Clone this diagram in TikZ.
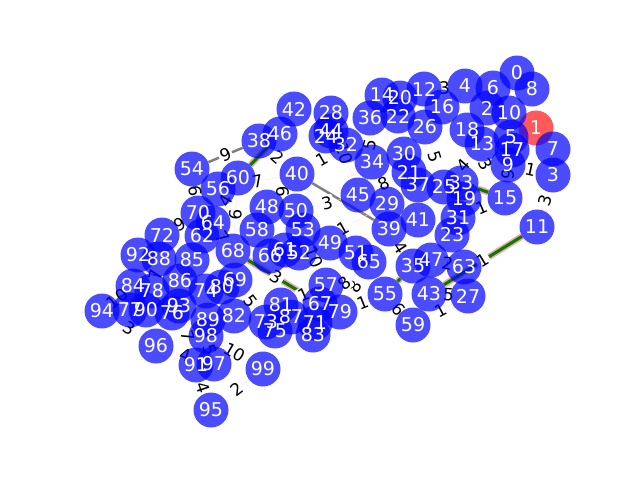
\documentclass[tikz,border=0pt]{standalone}
\usepackage{fontspec}
\setmainfont{DejaVu Sans}
\usepackage{xcolor}
\usepackage{tikz}

\pgfdeclarelayer{background}
\pgfsetlayers{background,main}

\definecolor{halo}{RGB}{250,160,160}
\definecolor{pathgreen}{RGB}{0,128,0}
\definecolor{faint}{RGB}{255,225,230}

\begin{document}
\begin{tikzpicture}[
            x = 1pt, y = -1pt, % pixel grid, y downwards
            vertex/.style = {shape=circle, fill=blue, fill opacity=0.7, minimum size=35pt, inner sep=0pt},
            source/.style = {vertex, fill=red, fill opacity=0.65},
            num/.style = {text=white, font=\fontsize{19}{19}\selectfont},
            link/.style = {draw=faint, line width=0.4pt},
            grey link/.style = {draw=gray, line width=2.5pt},
            route/.style = {draw=halo, line width=1.6pt, double=pathgreen, double distance=3pt},
            weight/.style = {sloped, fill=white, rounded corners=2pt, inner sep=1.5pt, font=\fontsize{17}{17}\selectfont}
        ]
\useasboundingbox (0,0) rectangle (640,480);

\node[vertex] (n0) at (517,73) {};
\node[source] (n1) at (536,128) {};
\node[vertex] (n2) at (487,108) {};
\node[vertex] (n3) at (553,175) {};
\node[vertex] (n4) at (465,86) {};
\node[vertex] (n5) at (511,137) {};
\node[vertex] (n6) at (493,88) {};
\node[vertex] (n7) at (553,149) {};
\node[vertex] (n8) at (532,89) {};
\node[vertex] (n9) at (508,165) {};
\node[vertex] (n10) at (509,113) {};
\node[vertex] (n11) at (537,227) {};
\node[vertex] (n12) at (424,89) {};
\node[vertex] (n13) at (482,144) {};
\node[vertex] (n14) at (382,95) {};
\node[vertex] (n15) at (505,198) {};
\node[vertex] (n16) at (442,107) {};
\node[vertex] (n17) at (512,150) {};
\node[vertex] (n18) at (467,130) {};
\node[vertex] (n19) at (464,199) {};
\node[vertex] (n20) at (400,98) {};
\node[vertex] (n21) at (409,172) {};
\node[vertex] (n22) at (398,116) {};
\node[vertex] (n23) at (452,235) {};
\node[vertex] (n24) at (326,136) {};
\node[vertex] (n25) at (444,187) {};
\node[vertex] (n26) at (425,127) {};
\node[vertex] (n27) at (468,296) {};
\node[vertex] (n28) at (331,113) {};
\node[vertex] (n29) at (387,204) {};
\node[vertex] (n30) at (404,154) {};
\node[vertex] (n31) at (458,218) {};
\node[vertex] (n32) at (346,145) {};
\node[vertex] (n33) at (461,183) {};
\node[vertex] (n34) at (372,162) {};
\node[vertex] (n35) at (413,266) {};
\node[vertex] (n36) at (370,118) {};
\node[vertex] (n37) at (418,185) {};
\node[vertex] (n38) at (259,141) {};
\node[vertex] (n39) at (389,229) {};
\node[vertex] (n40) at (297,174) {};
\node[vertex] (n41) at (418,220) {};
\node[vertex] (n42) at (294,109) {};
\node[vertex] (n43) at (429,294) {};
\node[vertex] (n44) at (331,131) {};
\node[vertex] (n45) at (358,195) {};
\node[vertex] (n46) at (280,134) {};
\node[vertex] (n47) at (431,260) {};
\node[vertex] (n48) at (267,207) {};
\node[vertex] (n49) at (330,243) {};
\node[vertex] (n50) at (296,211) {};
\node[vertex] (n51) at (356,253) {};
\node[vertex] (n52) at (299,253) {};
\node[vertex] (n53) at (303,230) {};
\node[vertex] (n54) at (192,169) {};
\node[vertex] (n55) at (385,294) {};
\node[vertex] (n56) at (218,189) {};
\node[vertex] (n57) at (326,285) {};
\node[vertex] (n58) at (257,230) {};
\node[vertex] (n59) at (413,325) {};
\node[vertex] (n60) at (238,178) {};
\node[vertex] (n61) at (285,250) {};
\node[vertex] (n62) at (202,236) {};
\node[vertex] (n63) at (464,267) {};
\node[vertex] (n64) at (213,223) {};
\node[vertex] (n65) at (369,262) {};
\node[vertex] (n66) at (270,256) {};
\node[vertex] (n67) at (320,304) {};
\node[vertex] (n68) at (233,251) {};
\node[vertex] (n69) at (235,280) {};
\node[vertex] (n70) at (198,213) {};
\node[vertex] (n71) at (315,323) {};
\node[vertex] (n72) at (162,235) {};
\node[vertex] (n73) at (266,322) {};
\node[vertex] (n74) at (206,291) {};
\node[vertex] (n75) at (275,331) {};
\node[vertex] (n76) at (172,313) {};
\node[vertex] (n77) at (130,310) {};
\node[vertex] (n78) at (152,291) {};
\node[vertex] (n79) at (340,312) {};
\node[vertex] (n80) at (222,287) {};
\node[vertex] (n81) at (281,305) {};
\node[vertex] (n82) at (234,316) {};
\node[vertex] (n83) at (313,335) {};
\node[vertex] (n84) at (133,286) {};
\node[vertex] (n85) at (192,260) {};
\node[vertex] (n86) at (180,281) {};
\node[vertex] (n87) at (291,317) {};
\node[vertex] (n88) at (159,259) {};
\node[vertex] (n89) at (208,320) {};
\node[vertex] (n90) at (146,310) {};
\node[vertex] (n91) at (196,365) {};
\node[vertex] (n92) at (138,255) {};
\node[vertex] (n93) at (179,306) {};
\node[vertex] (n94) at (102,311) {};
\node[vertex] (n95) at (211,410) {};
\node[vertex] (n96) at (156,346) {};
\node[vertex] (n97) at (214,364) {};
\node[vertex] (n98) at (206,336) {};
\node[vertex] (n99) at (263,369) {};

% numbers go on top of every disc
\node[num] at (n0) {0};
\node[num] at (n1) {1};
\node[num] at (n2) {2};
\node[num] at (n3) {3};
\node[num] at (n4) {4};
\node[num] at (n5) {5};
\node[num] at (n6) {6};
\node[num] at (n7) {7};
\node[num] at (n8) {8};
\node[num] at (n9) {9};
\node[num] at (n10) {10};
\node[num] at (n11) {11};
\node[num] at (n12) {12};
\node[num] at (n13) {13};
\node[num] at (n14) {14};
\node[num] at (n15) {15};
\node[num] at (n16) {16};
\node[num] at (n17) {17};
\node[num] at (n18) {18};
\node[num] at (n19) {19};
\node[num] at (n20) {20};
\node[num] at (n21) {21};
\node[num] at (n22) {22};
\node[num] at (n23) {23};
\node[num] at (n24) {24};
\node[num] at (n25) {25};
\node[num] at (n26) {26};
\node[num] at (n27) {27};
\node[num] at (n28) {28};
\node[num] at (n29) {29};
\node[num] at (n30) {30};
\node[num] at (n31) {31};
\node[num] at (n32) {32};
\node[num] at (n33) {33};
\node[num] at (n34) {34};
\node[num] at (n35) {35};
\node[num] at (n36) {36};
\node[num] at (n37) {37};
\node[num] at (n38) {38};
\node[num] at (n39) {39};
\node[num] at (n40) {40};
\node[num] at (n41) {41};
\node[num] at (n42) {42};
\node[num] at (n43) {43};
\node[num] at (n44) {44};
\node[num] at (n45) {45};
\node[num] at (n46) {46};
\node[num] at (n47) {47};
\node[num] at (n48) {48};
\node[num] at (n49) {49};
\node[num] at (n50) {50};
\node[num] at (n51) {51};
\node[num] at (n52) {52};
\node[num] at (n53) {53};
\node[num] at (n54) {54};
\node[num] at (n55) {55};
\node[num] at (n56) {56};
\node[num] at (n57) {57};
\node[num] at (n58) {58};
\node[num] at (n59) {59};
\node[num] at (n60) {60};
\node[num] at (n61) {61};
\node[num] at (n62) {62};
\node[num] at (n63) {63};
\node[num] at (n64) {64};
\node[num] at (n65) {65};
\node[num] at (n66) {66};
\node[num] at (n67) {67};
\node[num] at (n68) {68};
\node[num] at (n69) {69};
\node[num] at (n70) {70};
\node[num] at (n71) {71};
\node[num] at (n72) {72};
\node[num] at (n73) {73};
\node[num] at (n74) {74};
\node[num] at (n75) {75};
\node[num] at (n76) {76};
\node[num] at (n77) {77};
\node[num] at (n78) {78};
\node[num] at (n79) {79};
\node[num] at (n80) {80};
\node[num] at (n81) {81};
\node[num] at (n82) {82};
\node[num] at (n83) {83};
\node[num] at (n84) {84};
\node[num] at (n85) {85};
\node[num] at (n86) {86};
\node[num] at (n87) {87};
\node[num] at (n88) {88};
\node[num] at (n89) {89};
\node[num] at (n90) {90};
\node[num] at (n91) {91};
\node[num] at (n92) {92};
\node[num] at (n93) {93};
\node[num] at (n94) {94};
\node[num] at (n95) {95};
\node[num] at (n96) {96};
\node[num] at (n97) {97};
\node[num] at (n98) {98};
\node[num] at (n99) {99};

% edges sit under the discs
\begin{pgfonlayer}{background}
 \path (n54) edge[grey link] node[weight] {9} (n38);
 \path (n40) edge[grey link] (n39);

 \path (n11) edge[route] node[weight] {1} (n43);
 \path (n68) edge[route] node[weight] {3} (n67);
 \path (n55) edge[route] (n35);
 \path (n33) edge[route] (n15);
 \path (n60) edge[route] (n46);
 \path (n45) edge[route] (n34);

 \path (n56) edge[link] node[weight] {7} (n40);
 \path (n38) edge[link] node[weight] {2} (n40);
 \path (n40) edge[link] node[weight] {1} (n32);
 \path (n28) edge[link] node[weight] {10} (n45);
 \path (n46) edge[link] node[weight] {6} (n61);
 \path (n45) edge[link] node[weight] {3} (n50);
 \path (n29) edge[link] node[weight] {1} (n52);
 \path (n60) edge[link] node[weight] {6} (n68);
 \path (n54) edge[link] node[weight] {6} (n70);
 \path (n60) edge[link] node[weight] {4} (n64);
 \path (n70) edge[link] node[weight] {9} (n72);
 \path (n64) edge[link] node[weight] {7} (n68);
 \path (n88) edge[link] node[weight] {7} (n78);
 \path (n69) edge[link] node[weight] {5} (n73);
 \path (n94) edge[link] node[weight] {10} (n84);
 \path (n94) edge[link] node[weight] {3} (n96);
 \path (n93) edge[link] node[weight] {7} (n91);
 \path (n96) edge[link] node[weight] {4} (n97);
 \path (n98) edge[link] node[weight] {5} (n97);
 \path (n98) edge[link] node[weight] {10} (n99);
 \path (n91) edge[link] node[weight] {4} (n95);
 \path (n95) edge[link] node[weight] {2} (n99);
 \path (n12) edge[link] node[weight] {3} (n4);
 \path (n26) edge[link] node[weight] {5} (n25);
 \path (n13) edge[link] node[weight] {4} (n25);
 \path (n18) edge[link] node[weight] {3} (n15);
 \path (n17) edge[link] node[weight] {9} (n15);
 \path (n9) edge[link] node[weight] {1} (n3);
 \path (n3) edge[link] node[weight] {3} (n11);
 \path (n31) edge[link] node[weight] {1} (n15);
 \path (n47) edge[link] node[weight] {2} (n63);
 \path (n43) edge[link] node[weight] {5} (n27);
 \path (n59) edge[link] node[weight] {1} (n27);
 \path (n55) edge[link] node[weight] {6} (n59);
 \path (n39) edge[link] node[weight] {4} (n35);
 \path (n21) edge[link] node[weight] {8} (n45);
 \path (n65) edge[link] node[weight] {8} (n79);
 \path (n55) edge[link] node[weight] {1} (n79);
 \path (n65) edge[link] node[weight] {8} (n67);
 \path (n53) edge[link] node[weight] {10} (n57);
 \path (n81) edge[link] node[weight] {1} (n57);
 \path (n14) edge[link] node[weight] {5} (n45);
\end{pgfonlayer}
\end{tikzpicture}
\end{document}
